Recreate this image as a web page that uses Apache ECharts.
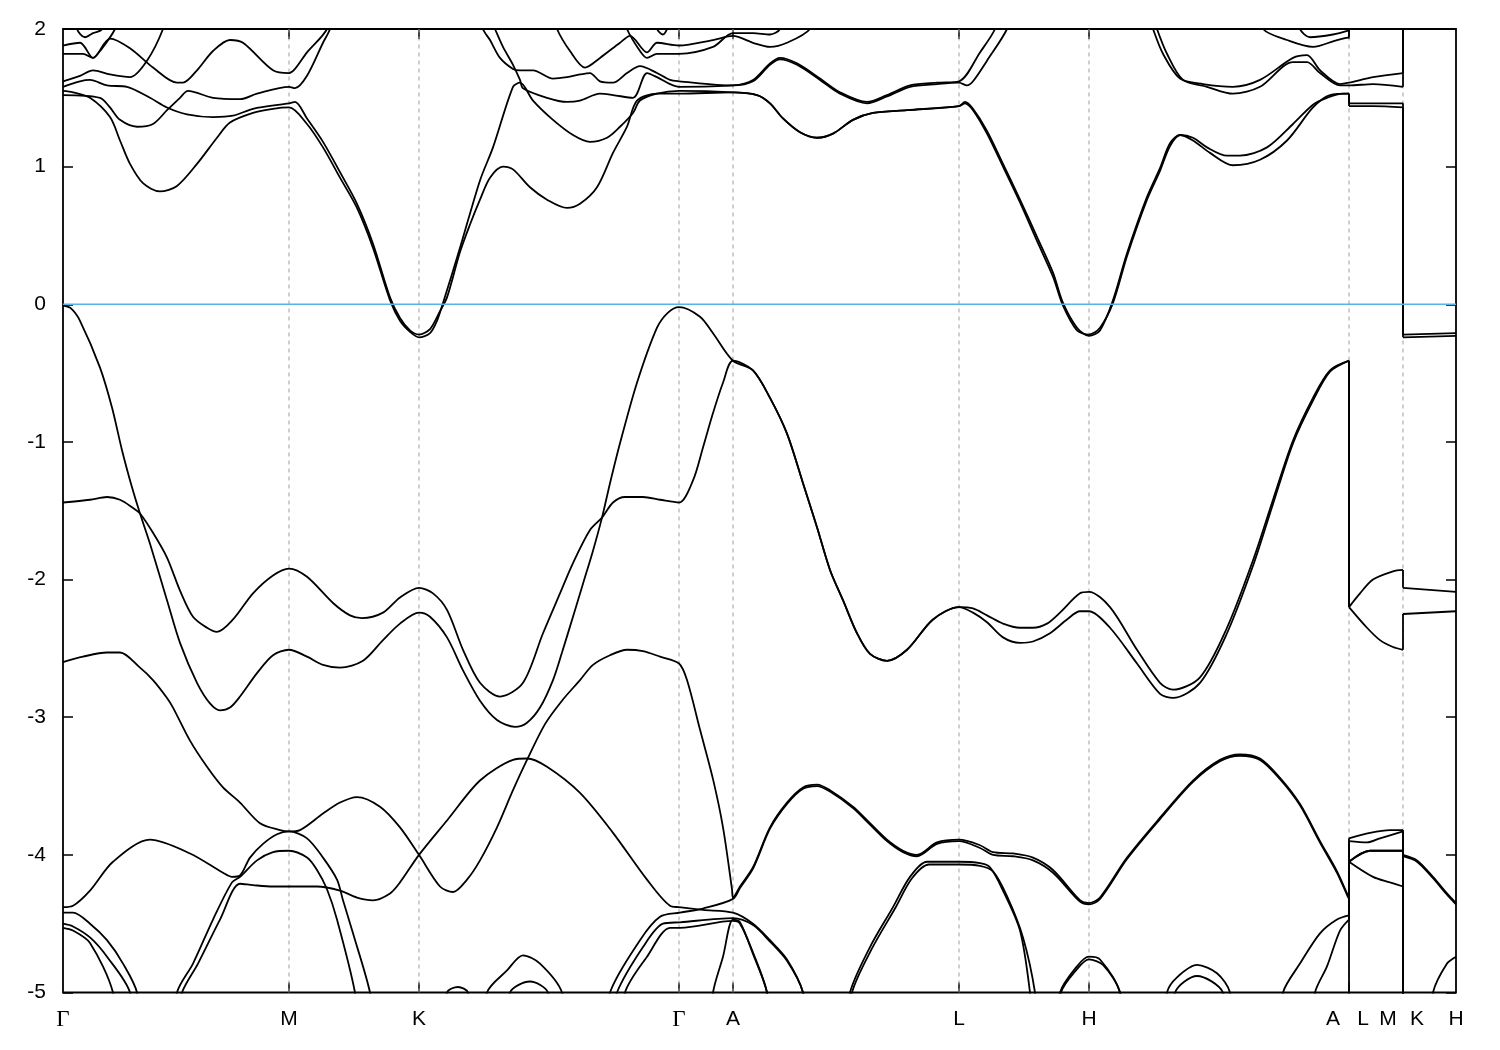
<!DOCTYPE html>
<html><head><meta charset="utf-8">
<script src="https://cdn.jsdelivr.net/npm/echarts@6/dist/echarts.min.js"></script>
<style>html,body{margin:0;padding:0;background:#fff;}#chart{width:1500px;height:1050px;}</style>
</head><body><div id="chart"></div>
<script>
// k-path (path distance units) of the high-symmetry points and their tick labels
const kPath = [0, 226, 356, 616, 670, 896, 1026, 1286, 1340, 1393];
const kLabelPos = [0, 226, 356, 616, 670, 896, 1026, 1270, 1300, 1325, 1354, 1393];
const kLabelText = ['Γ','M','K','Γ','A','L','H','A','L','M','K','H'];
const eMin = -5, eMax = 2, eStep = 1;
const fermiLevel = 0;

// bands: [k, E(eV)]; repeated k = discontinuity of the path (A|L, M|K)
const bandV1 = [[0,-0.01],[8,-0.03],[17,-0.12],[37,-0.46],[49,-0.75],[59,-1.06],[69,-1.33],[77,-1.52],[87,-1.74],[104,-2.15],[117,-2.46],[134,-2.75],[147,-2.90],[157,-2.95],[167,-2.93],[177,-2.85],[194,-2.68],[210,-2.55],[226,-2.51],[244,-2.56],[260,-2.62],[277,-2.64],[300,-2.59],[320,-2.44],[337,-2.32],[356,-2.24],[367,-2.27],[384,-2.42],[400,-2.66],[417,-2.88],[434,-3.02],[452,-3.07],[464,-3.04],[477,-2.93],[490,-2.73],[499,-2.53],[510,-2.27],[520,-2.03],[530,-1.79],[539,-1.55],[547,-1.30],[557,-1.01],[574,-0.57],[594,-0.17],[605,-0.06],[616,-0.02],[637,-0.09],[650,-0.21],[670,-0.41],[690,-0.48],[707,-0.68],[724,-0.94],[740,-1.30],[754,-1.62],[767,-1.93],[780,-2.15],[794,-2.39],[807,-2.54],[824,-2.59],[844,-2.51],[870,-2.29],[896,-2.20],[910,-2.21],[924,-2.26],[940,-2.32],[957,-2.35],[970,-2.35],[984,-2.32],[997,-2.24],[1017,-2.10],[1026,-2.09],[1047,-2.20],[1074,-2.51],[1097,-2.75],[1110,-2.80],[1137,-2.71],[1164,-2.35],[1190,-1.86],[1210,-1.42],[1230,-0.99],[1250,-0.68],[1267,-0.48],[1286,-0.41],[1286,-2.20],[1297,-2.10],[1310,-2.00],[1330,-1.94],[1340,-1.93],[1340,-2.06],[1393,-2.09]];
const bandV2 = [[0,-1.44],[27,-1.42],[44,-1.40],[57,-1.42],[70,-1.48],[77,-1.52],[90,-1.66],[104,-1.84],[117,-2.08],[130,-2.27],[144,-2.35],[154,-2.38],[170,-2.29],[190,-2.10],[210,-1.97],[226,-1.92],[244,-1.98],[270,-2.17],[287,-2.26],[299,-2.28],[320,-2.24],[337,-2.13],[356,-2.06],[370,-2.10],[384,-2.22],[400,-2.51],[417,-2.75],[437,-2.85],[460,-2.75],[480,-2.39],[497,-2.10],[510,-1.88],[527,-1.64],[539,-1.55],[550,-1.44],[562,-1.40],[580,-1.40],[597,-1.42],[616,-1.44],[630,-1.28],[640,-1.04],[650,-0.79],[660,-0.57],[670,-0.41],[690,-0.48],[707,-0.68],[724,-0.94],[740,-1.30],[754,-1.62],[767,-1.93],[780,-2.15],[794,-2.39],[807,-2.54],[824,-2.59],[844,-2.51],[870,-2.29],[896,-2.20],[910,-2.24],[924,-2.31],[940,-2.42],[957,-2.46],[970,-2.45],[987,-2.39],[1004,-2.29],[1017,-2.23],[1026,-2.23],[1047,-2.35],[1074,-2.61],[1097,-2.83],[1110,-2.86],[1137,-2.75],[1164,-2.39],[1190,-1.90],[1210,-1.45],[1230,-1.01],[1250,-0.70],[1267,-0.49],[1286,-0.41],[1286,-2.20],[1304,-2.35],[1317,-2.44],[1330,-2.49],[1340,-2.51],[1340,-2.25],[1393,-2.23]];
const bandV3 = [[0,-2.60],[20,-2.56],[44,-2.53],[57,-2.53],[77,-2.64],[90,-2.73],[104,-2.86],[110,-2.93],[127,-3.17],[144,-3.36],[160,-3.51],[177,-3.62],[197,-3.77],[217,-3.82],[226,-3.83],[237,-3.82],[260,-3.70],[277,-3.62],[294,-3.58],[317,-3.65],[337,-3.80],[356,-4.00],[377,-4.23],[390,-4.27],[404,-4.18],[417,-4.04],[434,-3.80],[450,-3.53],[464,-3.31],[482,-3.05],[499,-2.88],[517,-2.73],[530,-2.62],[547,-2.55],[564,-2.51],[580,-2.52],[597,-2.56],[616,-2.61],[624,-2.73],[637,-3.09],[650,-3.45],[660,-3.80],[669,-4.25],[670,-4.31],[677,-4.23],[690,-4.09],[707,-3.80],[724,-3.62],[740,-3.51],[754,-3.49],[767,-3.53],[790,-3.65],[807,-3.77],[824,-3.89],[840,-3.97],[854,-4.00],[874,-3.91],[896,-3.89],[917,-3.93],[930,-3.98],[950,-3.99],[970,-4.02],[990,-4.11],[1017,-4.33],[1026,-4.35],[1037,-4.31],[1064,-4.02],[1097,-3.73],[1130,-3.46],[1157,-3.31],[1177,-3.27],[1197,-3.30],[1217,-3.44],[1237,-3.63],[1257,-3.90],[1274,-4.12],[1284,-4.28],[1286,-4.31],[1286,-3.88],[1307,-3.84],[1327,-3.82],[1340,-3.82],[1340,-4.00],[1354,-4.04],[1370,-4.16],[1384,-4.28],[1393,-4.35]];
const bandV4 = [[0,-4.42],[10,-4.42],[27,-4.50],[44,-4.62],[60,-4.79],[74,-5.0],[80,-5.4],[378,-5.4],[384,-5.0],[395,-4.96],[405,-5.0],[411,-5.4],[540,-5.4],[547,-5.0],[577,-4.62],[597,-4.45],[617,-4.42],[640,-4.39],[670,-4.32],[677,-4.24],[690,-4.10],[707,-3.81],[724,-3.63],[740,-3.52],[754,-3.50],[767,-3.54],[790,-3.66],[807,-3.78],[824,-3.90],[840,-3.98],[854,-4.01],[874,-3.92],[896,-3.90],[917,-3.95],[930,-4.00],[950,-4.01],[970,-4.04],[990,-4.13],[1017,-4.34],[1026,-4.36],[1037,-4.32],[1064,-4.03],[1097,-3.74],[1130,-3.47],[1157,-3.32],[1177,-3.28],[1197,-3.31],[1217,-3.45],[1237,-3.64],[1257,-3.91],[1274,-4.13],[1284,-4.29],[1286,-4.32],[1286,-3.90],[1304,-3.91],[1317,-3.88],[1340,-3.83],[1340,-4.01],[1354,-4.05],[1370,-4.17],[1384,-4.29],[1393,-4.36]];
const bandV5 = [[105,-5.4],[119,-5.0],[135,-4.79],[157,-4.47],[177,-4.21],[190,-4.22],[210,-4.23],[226,-4.23],[254,-4.23],[277,-4.26],[294,-4.31],[310,-4.33],[327,-4.28],[337,-4.20],[356,-4.00],[384,-3.75],[417,-3.46],[450,-3.31],[464,-3.30],[484,-3.36],[517,-3.55],[550,-3.84],[584,-4.18],[607,-4.37],[616,-4.38],[640,-4.40],[670,-4.42],[690,-4.50],[707,-4.62],[724,-4.76],[740,-5.0],[748,-5.4],[780,-5.4],[787,-5.0],[807,-4.67],[830,-4.38],[847,-4.16],[864,-4.05],[896,-4.05],[917,-4.06],[927,-4.09],[940,-4.26],[957,-4.55],[967,-5.0],[972,-5.4],[990,-5.4],[997,-5.0],[1014,-4.81],[1026,-4.74],[1037,-4.76],[1057,-5.0],[1062,-5.4],[1098,-5.4],[1104,-5.0],[1114,-4.89],[1134,-4.80],[1154,-4.86],[1167,-5.0],[1172,-5.4],[1214,-5.4],[1220,-5.0],[1237,-4.79],[1257,-4.57],[1274,-4.47],[1286,-4.44],[1286,-4.05],[1307,-3.97],[1340,-3.97],[1340,-5.4],[1365,-5.4],[1370,-5.0],[1384,-4.79],[1393,-4.74]];
const bandV6 = [[0,-4.50],[10,-4.52],[27,-4.60],[44,-4.74],[67,-5.0],[72,-5.4],[540,-5.4],[554,-5.0],[580,-4.67],[600,-4.50],[617,-4.49],[670,-4.46],[690,-4.51],[707,-4.63],[724,-4.77],[740,-5.0],[746,-5.4],[782,-5.4],[789,-5.0],[809,-4.68],[832,-4.39],[849,-4.17],[866,-4.07],[896,-4.07],[917,-4.08],[930,-4.12],[944,-4.30],[960,-4.60],[972,-5.0],[977,-5.4],[992,-5.4],[998,-5.0],[1014,-4.83],[1026,-4.76],[1040,-4.80],[1057,-5.0],[1062,-5.4],[1106,-5.4],[1112,-5.0],[1134,-4.88],[1160,-5.0],[1166,-5.4],[1246,-5.4],[1252,-5.0],[1264,-4.81],[1277,-4.55],[1286,-4.47],[1286,-4.05],[1310,-4.16],[1327,-4.20],[1340,-4.23],[1340,-5.4],[1393,-5.4]];
const bandV7 = [[0,-4.38],[10,-4.37],[27,-4.26],[50,-4.05],[87,-3.89],[127,-3.99],[160,-4.13],[169,-4.16],[177,-4.15],[187,-4.02],[200,-3.92],[214,-3.85],[226,-3.83],[244,-3.88],[260,-4.02],[274,-4.18],[280,-4.33],[290,-4.57],[307,-5.0],[315,-5.4]];
const bandV8 = [[108,-5.4],[114,-5.0],[130,-4.79],[150,-4.47],[169,-4.20],[177,-4.16],[194,-4.04],[210,-3.98],[226,-3.97],[244,-4.02],[254,-4.11],[264,-4.25],[274,-4.47],[292,-5.0],[298,-5.4]];
const bandV9 = [[0,-4.53],[10,-4.55],[27,-4.64],[50,-5.0],[55,-5.4],[418,-5.4],[424,-5.0],[444,-4.84],[460,-4.73],[477,-4.79],[499,-5.0],[505,-5.4],[556,-5.4],[562,-5.0],[584,-4.74],[607,-4.53],[617,-4.53],[670,-4.48],[677,-4.50],[690,-4.71],[704,-5.0],[710,-5.4],[1280,-5.4],[1286,-5.4],[1286,-4.05],[1307,-3.97],[1340,-3.97],[1340,-5.4]];
const bandV10 = [[441,-5.4],[447,-5.0],[467,-4.92],[485,-5.0],[491,-5.4],[645,-5.4],[650,-5.0],[660,-4.74],[670,-4.47],[677,-4.49],[690,-4.72],[704,-5.0],[710,-5.4]];

const bandC1 = [[0,1.55],[10,1.54],[27,1.50],[47,1.36],[57,1.19],[67,1.02],[80,0.88],[97,0.82],[114,0.86],[134,1.02],[154,1.21],[167,1.32],[190,1.39],[210,1.42],[226,1.43],[244,1.31],[260,1.14],[277,0.92],[294,0.70],[310,0.41],[327,0.03],[337,-0.12],[347,-0.20],[356,-0.24],[367,-0.21],[374,-0.12],[380,0.01],[397,0.41],[417,0.90],[430,1.14],[450,1.58],[457,1.61],[470,1.48],[490,1.34],[510,1.23],[527,1.18],[544,1.21],[557,1.29],[570,1.39],[577,1.48],[594,1.53],[616,1.55],[670,1.54],[694,1.52],[707,1.46],[720,1.35],[737,1.25],[754,1.21],[770,1.24],[790,1.34],[810,1.39],[844,1.41],[896,1.44],[902,1.47],[910,1.42],[924,1.26],[940,1.02],[957,0.76],[974,0.49],[990,0.23],[1000,0.01],[1014,-0.17],[1026,-0.23],[1037,-0.19],[1050,0.03],[1064,0.37],[1084,0.78],[1097,0.99],[1107,1.17],[1117,1.23],[1130,1.21],[1144,1.14],[1164,1.08],[1177,1.08],[1204,1.14],[1230,1.31],[1250,1.45],[1264,1.50],[1280,1.53],[1286,1.53],[1286,1.44],[1310,1.44],[1340,1.43],[1340,-0.24],[1393,-0.23]];
const bandC2 = [[0,1.58],[17,1.62],[27,1.63],[44,1.59],[64,1.58],[87,1.50],[104,1.43],[124,1.38],[150,1.36],[170,1.37],[190,1.42],[226,1.46],[232,1.47],[244,1.35],[260,1.18],[277,0.96],[294,0.73],[310,0.44],[327,0.05],[337,-0.10],[347,-0.19],[356,-0.22],[367,-0.18],[377,-0.05],[384,0.05],[397,0.38],[407,0.58],[417,0.76],[427,0.92],[440,1.00],[450,0.98],[467,0.85],[484,0.76],[504,0.70],[517,0.73],[534,0.85],[550,1.10],[564,1.29],[574,1.48],[594,1.53],[616,1.53],[670,1.54],[694,1.52],[707,1.46],[720,1.35],[737,1.25],[754,1.21],[770,1.24],[790,1.34],[810,1.39],[844,1.41],[896,1.44],[902,1.46],[910,1.41],[924,1.24],[940,1.00],[957,0.74],[974,0.46],[990,0.20],[1000,-0.01],[1014,-0.19],[1026,-0.22],[1037,-0.17],[1050,0.01],[1064,0.35],[1084,0.76],[1097,0.97],[1107,1.15],[1117,1.23],[1130,1.19],[1147,1.10],[1170,1.01],[1197,1.05],[1224,1.19],[1250,1.43],[1267,1.52],[1286,1.53],[1286,1.46],[1310,1.46],[1340,1.46],[1340,-0.22],[1393,-0.21]];
const bandC3 = [[0,1.52],[37,1.50],[47,1.43],[57,1.34],[74,1.29],[90,1.31],[104,1.41],[117,1.50],[125,1.55],[150,1.50],[177,1.49],[194,1.53],[226,1.58],[232,1.57],[244,1.66],[260,1.90],[267,2.0],[274,2.2],[420,2.2],[432,2.0],[440,1.87],[450,1.74],[457,1.63],[460,1.57],[484,1.50],[504,1.47],[517,1.48],[537,1.53],[550,1.52],[570,1.50],[584,1.68],[594,1.65],[607,1.60],[616,1.58],[670,1.59],[690,1.63],[707,1.75],[717,1.79],[734,1.75],[757,1.64],[777,1.54],[804,1.47],[824,1.52],[847,1.59],[874,1.61],[896,1.62],[917,1.83],[932,2.0],[940,2.2],[1080,2.2],[1090,2.0],[1100,1.82],[1117,1.64],[1140,1.60],[1170,1.58],[1197,1.63],[1230,1.79],[1244,1.81],[1257,1.70],[1277,1.60],[1286,1.61],[1310,1.65],[1340,1.68],[1340,2.3],[1393,2.3]];
const bandC4 = [[0,1.62],[17,1.66],[30,1.70],[47,1.67],[67,1.65],[84,1.77],[100,2.0],[107,2.2],[415,2.2],[420,2.0],[427,1.92],[437,1.79],[450,1.71],[457,1.70],[470,1.70],[490,1.64],[504,1.65],[517,1.67],[527,1.68],[537,1.62],[550,1.61],[564,1.68],[577,1.73],[594,1.68],[607,1.63],[616,1.62],[670,1.59],[690,1.62],[707,1.74],[717,1.78],[734,1.74],[757,1.63],[777,1.53],[804,1.46],[824,1.51],[847,1.58],[874,1.60],[896,1.61],[904,1.59],[910,1.62],[924,1.77],[944,2.0],[952,2.2],[1085,2.2],[1094,2.0],[1104,1.82],[1120,1.63],[1144,1.58],[1170,1.53],[1197,1.58],[1230,1.76],[1244,1.76],[1257,1.68],[1277,1.59],[1286,1.59],[1310,1.60],[1340,1.58],[1340,2.3],[1393,2.3]];
const bandC5 = [[0,1.88],[17,1.90],[30,1.79],[47,1.93],[67,1.86],[90,1.72],[114,1.61],[120,1.61],[134,1.70],[150,1.84],[167,1.92],[180,1.90],[210,1.70],[226,1.68],[232,1.71],[244,1.83],[264,2.0],[270,2.2],[485,2.2],[494,2.0],[507,1.84],[522,1.72],[537,1.79],[557,1.90],[567,1.95],[584,1.83],[594,1.90],[616,1.88],[650,1.92],[670,1.95],[690,1.90],[707,1.87],[724,1.90],[747,2.0],[757,2.2],[1190,2.2],[1200,2.0],[1224,1.92],[1250,1.87],[1274,1.92],[1286,1.94],[1286,2.3],[1393,2.3]];
const bandC6 = [[0,1.82],[20,1.82],[30,1.79],[37,1.84],[52,2.0],[60,2.2],[556,2.2],[564,2.0],[577,1.84],[584,1.79],[594,1.82],[616,1.82],[650,1.87],[670,1.97],[690,1.97],[707,1.96],[717,2.0],[725,2.2],[1230,2.2],[1237,2.0],[1247,1.94],[1270,1.96],[1286,1.99],[1286,2.3],[1393,2.3]];
const bandC7 = [[10,2.2],[14,2.0],[22,1.94],[30,1.97],[39,2.0],[45,2.2],[585,2.2],[594,2.0],[600,1.96],[604,2.0],[610,2.2]];

const bands = [bandV1, bandV2, bandV3, bandV4, bandV5, bandV6, bandV7, bandV8, bandV9, bandV10,
               bandC1, bandC2, bandC3, bandC4, bandC5, bandC6, bandC7];

function splitBand(b) {
  const pieces = []; let cur = [b[0]];
  for (let i = 1; i < b.length; i++) {
    if (b[i][0] === b[i-1][0]) { pieces.push({d: cur, s: true}); pieces.push({d: [b[i-1], b[i]], s: false}); cur = [b[i]]; }
    else cur.push(b[i]);
  }
  pieces.push({d: cur, s: true});
  return pieces.filter(p => p.d.length > 1);
}

const series = [];
// dashed vertical lines at the inner high-symmetry points (drawn under the bands)
kPath.slice(1, -1).forEach(k => {
  series.push({
    type: 'line', data: [[k, eMin], [k, eMax]], showSymbol: false, silent: true, z: 1,
    lineStyle: {color: '#a0a0a0', type: [4, 4], width: 1}
  });
});
bands.forEach(b => {
  splitBand(b).forEach(p => {
    series.push({
      type: 'line', data: p.d, showSymbol: false, silent: true, clip: true, z: 3,
      smooth: p.s ? 0.3 : false,
      lineStyle: {color: '#000', width: 1.8}
    });
  });
});
series.push({
  type: 'line', data: [[kPath[0], fermiLevel], [kPath[kPath.length-1], fermiLevel]],
  showSymbol: false, silent: true, z: 4, lineStyle: {color: '#56b4e9', width: 1.6}
});

const yAxisBase = {
  type: 'value', min: eMin, max: eMax, interval: eStep,
  axisLine: {show: false, onZero: false}, splitLine: {show: false},
  axisTick: {inside: true, length: 10, lineStyle: {color: '#000', width: 1.5}}
};
const xTick = {inside: true, length: 10, customValues: kPath.slice(1, -1), lineStyle: {color: '#000', width: 1.5}};

const chart = echarts.init(document.getElementById('chart'), null, {renderer: 'canvas'});
chart.setOption({
  animation: false,
  backgroundColor: '#fff',
  grid: {left: 63, right: 44, top: 29, bottom: 57.5, show: true, borderColor: '#000', borderWidth: 1.8, backgroundColor: 'transparent'},
  xAxis: [{
    type: 'value', min: kPath[0], max: kPath[kPath.length-1], position: 'bottom',
    axisLine: {show: false, onZero: false}, splitLine: {show: false},
    axisTick: xTick,
    axisLabel: {
      customValues: kLabelPos, showMinLabel: true, showMaxLabel: true, hideOverlap: false,
      margin: 16, fontSize: 21, color: '#000', fontFamily: 'Liberation Sans',
      formatter: function (v) {
        const i = kLabelPos.findIndex(p => Math.abs(p - v) < 0.5);
        const t = i >= 0 ? kLabelText[i] : '';
        return t === 'Γ' ? '{g|Γ}' : t;
      },
      rich: {g: {fontFamily: 'Liberation Serif', fontSize: 23, color: '#000'}}
    }
  }, {
    type: 'value', min: kPath[0], max: kPath[kPath.length-1], position: 'top',
    axisLine: {show: false, onZero: false}, splitLine: {show: false}, axisLabel: {show: false},
    axisTick: xTick
  }],
  yAxis: [Object.assign({}, yAxisBase, {
    position: 'left',
    axisLabel: {margin: 17, fontSize: 21, color: '#000', fontFamily: 'Liberation Sans'}
  }), Object.assign({}, yAxisBase, {position: 'right', axisLabel: {show: false}})],
  series: series
});
</script></body></html>
